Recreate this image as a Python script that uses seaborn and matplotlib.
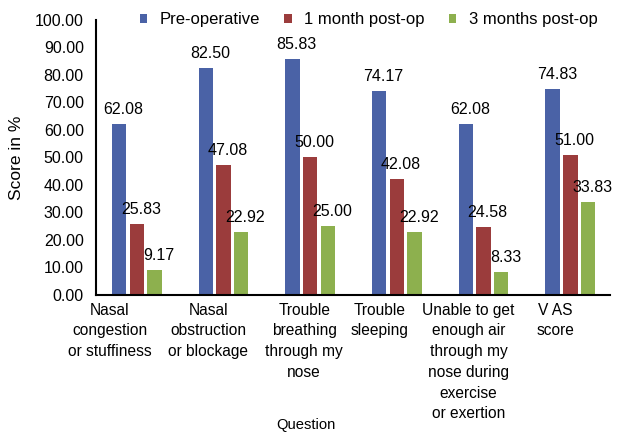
import pandas as pd
import seaborn as sns
import matplotlib.pyplot as plt
from matplotlib.transforms import ScaledTranslation

# Chart values
questions = ['Nasal\ncongestion\nor stuffiness', 'Nasal\nobstruction\nor blockage',
             'Trouble\nbreathing\nthrough my\nnose', 'Trouble\nsleeping',
             'Unable to get\nenough air\nthrough my\nnose during\nexercise\nor exertion',
             'V AS\nscore']
periods = ['Pre-operative', '1 month post-op', '3 months post-op']
pre_op = [62.08, 82.50, 85.83, 74.17, 62.08, 74.83]
one_month = [25.83, 47.08, 50.00, 42.08, 24.58, 51.00]
three_months = [9.17, 22.92, 25.00, 22.92, 8.33, 33.83]
y_ticks = [0, 10, 20, 30, 40, 50, 60, 70, 80, 90, 100]

# Long-form table for seaborn
rows = []
for period, values in zip(periods, [pre_op, one_month, three_months]):
    for q, v in zip(questions, values):
        rows.append({'Question': q, 'Period': period, 'Score': v})
df = pd.DataFrame(rows)

sns.set_style('white')
plt.rcParams['font.family'] = ['Liberation Sans', 'DejaVu Sans']
plt.rcParams['text.color'] = 'black'
plt.rcParams['xtick.color'] = 'black'
plt.rcParams['ytick.color'] = 'black'
plt.rcParams['axes.labelcolor'] = 'black'

colors = ['#4a62a6', '#9b3c3c', '#8db04e']

fig = plt.figure(figsize=(6.17, 4.33), dpi=100)
ax = fig.add_axes([0.156, 0.319, 0.833, 0.635])

sns.barplot(ax=ax, data=df, x='Question', y='Score', hue='Period',
            palette=colors, width=0.61, gap=0.18, saturation=1, linewidth=0)

# Value labels above each bar
for container in ax.containers:
    for ann in ax.bar_label(container, fmt='%.2f', fontsize=11.5, padding=5):
        ann.xyann = (3, 5)

ax.set_xlim(-0.467, 5.46)
ax.set_ylim(0, 100)
ax.set_yticks(y_ticks)
ax.set_yticklabels([f'{t:.2f}' for t in y_ticks], fontsize=11.5)
ax.tick_params(axis='y', direction='in', length=6, width=1.5, pad=9)
ax.tick_params(axis='x', which='major', length=0, pad=5.5)
ax.set_xticks(range(len(questions)))
ax.set_xticklabels(questions, fontsize=11.2, linespacing=1.48)

# the wrapped category labels sit a little left of their groups
label_shift_px = [-27, -15, -6, -17, -15, -15]
for lbl, dx in zip(ax.get_xticklabels(), label_shift_px):
    lbl.set_transform(lbl.get_transform() + ScaledTranslation(dx / 100, 0, fig.dpi_scale_trans))

# tick at the right end of the category axis
ax.set_xticks([5.46], minor=True)
ax.tick_params(axis='x', which='minor', direction='in', length=6, width=1.5)

for side in ['top', 'right']:
    ax.spines[side].set_visible(False)
for side in ['left', 'bottom']:
    ax.spines[side].set_color('black')
    ax.spines[side].set_linewidth(1.5)

ax.set_ylabel('Score in %', fontsize=12.5)
ax.yaxis.set_label_coords(-0.14, 0.5)
ax.set_xlabel('')
fig.text(306 / 617, 1 - 425 / 433, 'Question', fontsize=10.6, ha='center', va='center')

handles, labels = ax.get_legend_handles_labels()
ax.legend(handles, labels, loc='center', bbox_to_anchor=(0.53, 1.0), ncol=3,
          frameon=False, fontsize=12, handlelength=0.45, handleheight=0.45,
          handletextpad=0.75, columnspacing=1.45)

fig.savefig('out.png', dpi=100)
